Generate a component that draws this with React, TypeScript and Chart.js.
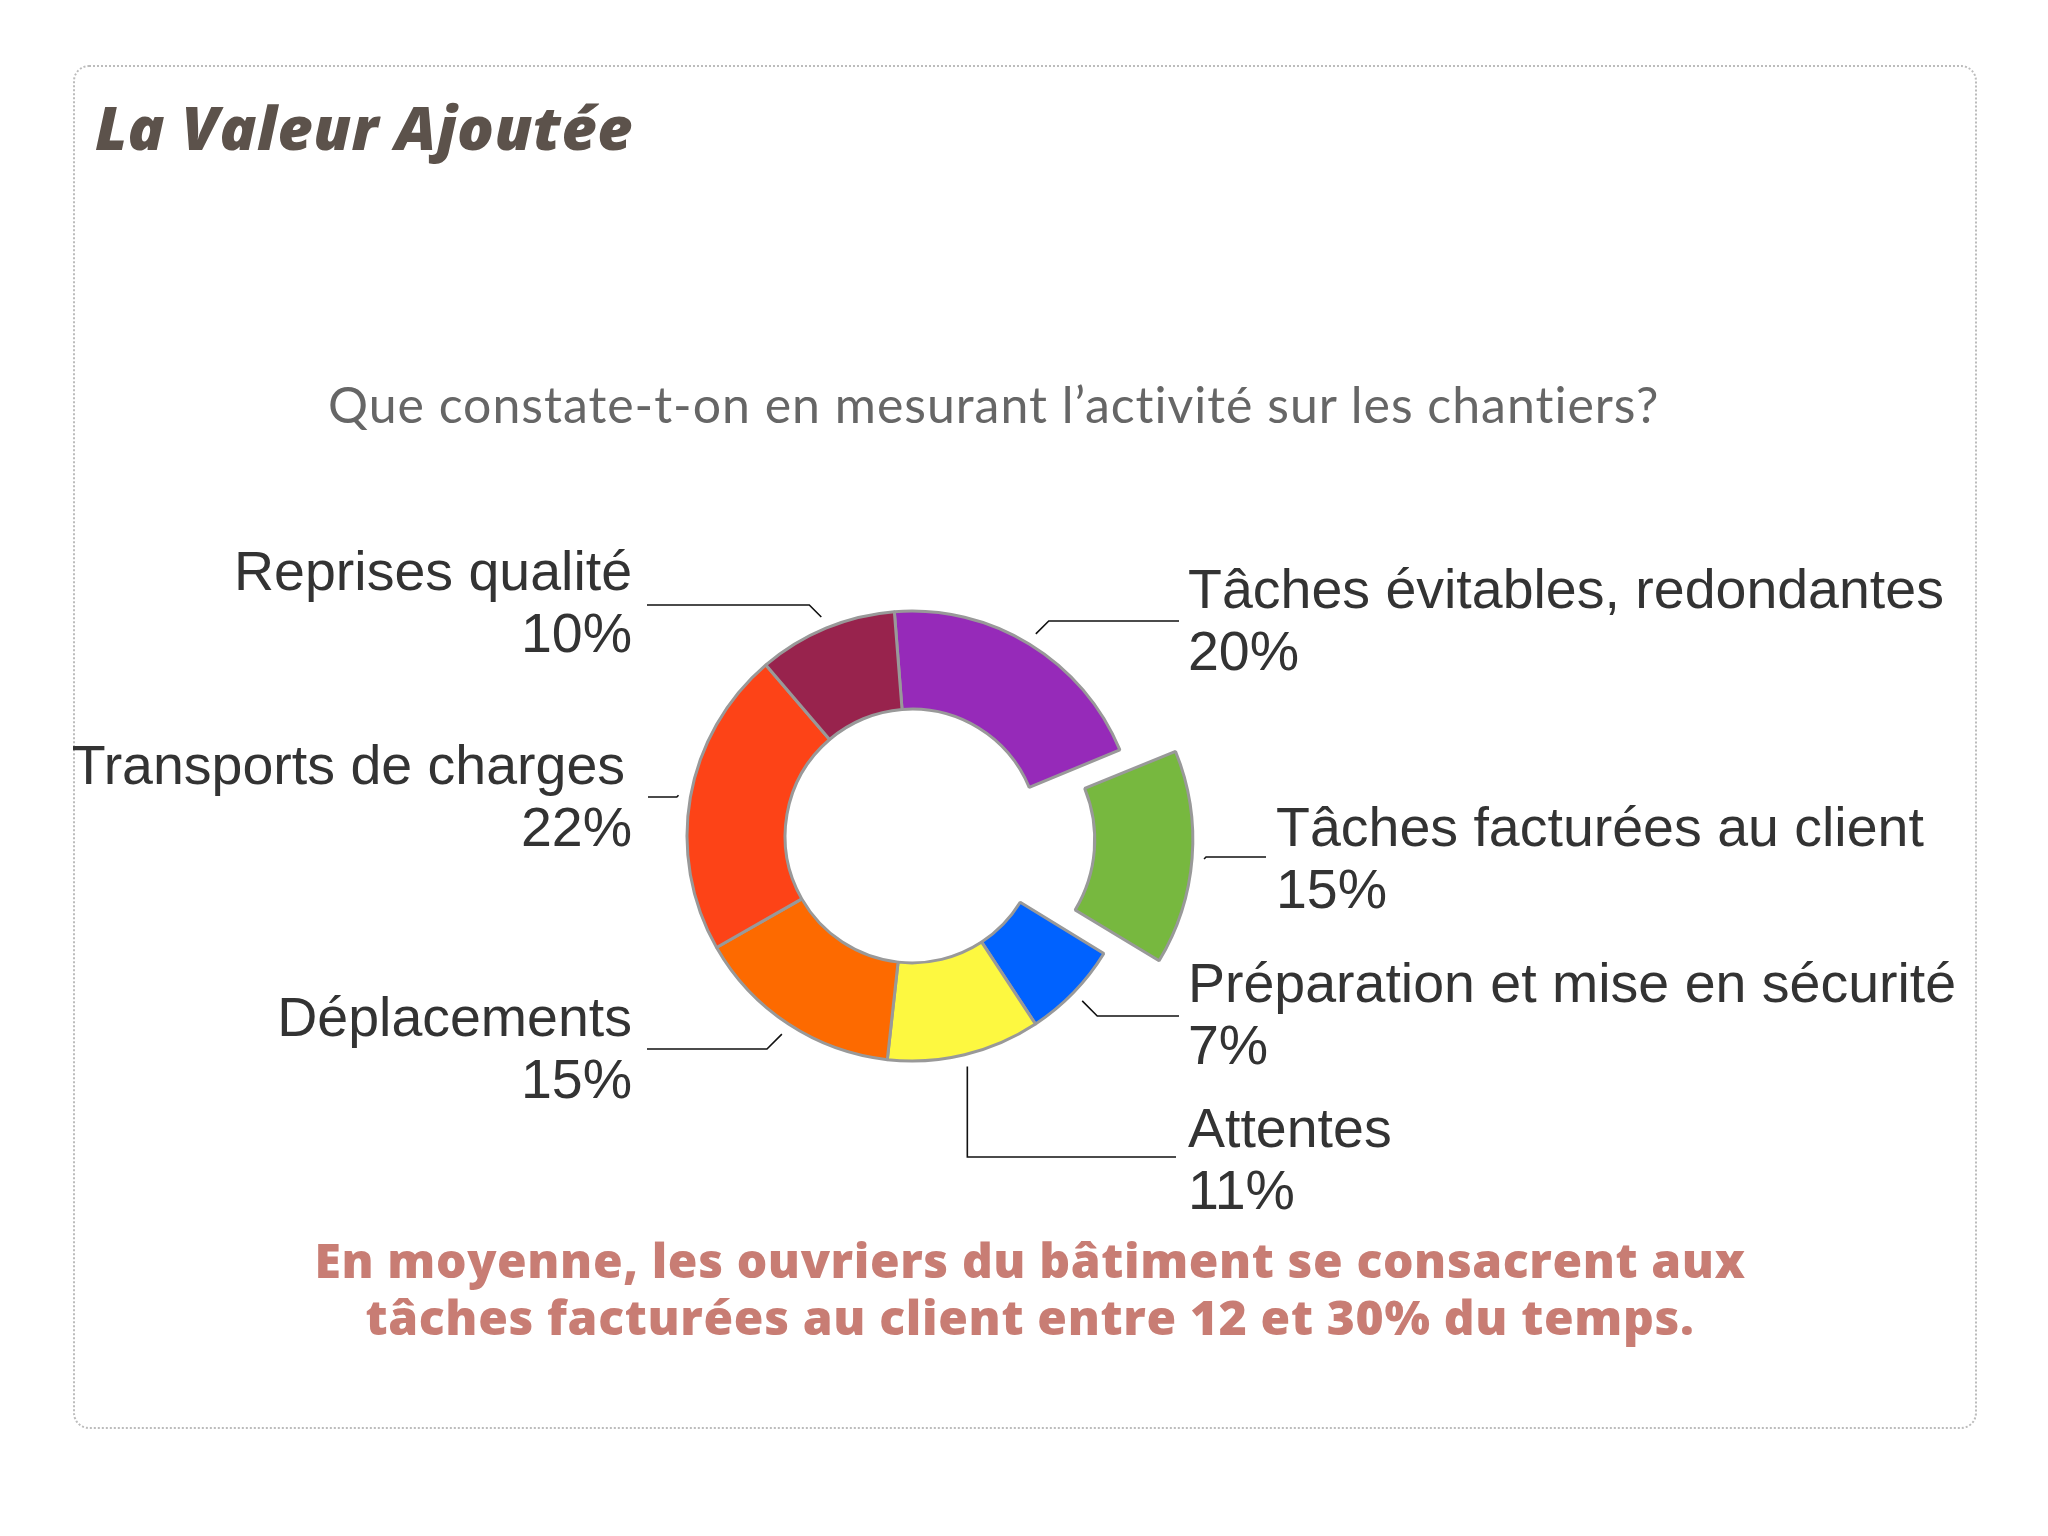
import React, { useEffect, useLayoutEffect, useRef } from 'react';
import { Chart, registerables } from 'chart.js';

Chart.register(...registerables);

// ---- data ----
const categories = [
  'Tâches évitables, redondantes',
  'Tâches facturées au client',
  'Préparation et mise en sécurité',
  'Attentes',
  'Déplacements',
  'Transports de charges',
  'Reprises qualité',
];
const values = [20, 15, 7, 11, 15, 22, 10];
const percentLabels = ['20%', '15%', '7%', '11%', '15%', '22%', '10%'];
const sliceColors = ['#962ab9', '#77b83f', '#0062ff', '#fdf840', '#fd6a00', '#fd4317', '#98234d'];
const sliceOffsets = [0, 188, 0, 0, 0, 0, 0];

const titleText = 'La Valeur Ajoutée';
const subtitleText = 'Que constate-t-on en mesurant l’activité sur les chantiers?';
const footerLines = [
  'En moyenne, les ouvriers du bâtiment se consacrent aux',
  'tâches facturées au client entre 12 et 30% du temps.',
];

// ---- label layout (positions only) ----
type LabelPos = {
  x: number;
  y: number;
  align: 'left' | 'right';
  lineY: number;
  lineEndX: number;
  mode: 'elbow' | 'vertical';
  nameDx?: number;
};
const labelLayout: LabelPos[] = [
  { x: 1188, y: 608, align: 'left', lineY: 621, lineEndX: 1179, mode: 'elbow' },
  { x: 1276, y: 846, align: 'left', lineY: 857, lineEndX: 1266, mode: 'elbow' },
  { x: 1188, y: 1002, align: 'left', lineY: 1016, lineEndX: 1179, mode: 'elbow' },
  { x: 1188, y: 1147, align: 'left', lineY: 1157, lineEndX: 1176, mode: 'vertical' },
  { x: 632, y: 1036, align: 'right', lineY: 1049, lineEndX: 647, mode: 'elbow' },
  { x: 632, y: 784, align: 'right', lineY: 797, lineEndX: 648, mode: 'elbow', nameDx: -7 },
  { x: 632, y: 590, align: 'right', lineY: 605, lineEndX: 647, mode: 'elbow' },
];

const W = 2048;
const H = 1536;
const CX = 912;
const CY = 836;
const HALF = 260;

const labelPlugin = {
  id: 'outsideLabels',
  afterDatasetsDraw(chart: any) {
    const ctx = chart.ctx as CanvasRenderingContext2D;
    const meta = chart.getDatasetMeta(0);
    ctx.save();
    meta.data.forEach((arc: any, i: number) => {
      const lay = labelLayout[i];
      if (!lay) return;
      const { x, y, startAngle, endAngle, outerRadius } = arc.getProps(
        ['x', 'y', 'startAngle', 'endAngle', 'outerRadius'],
        true
      );
      const mid = (startAngle + endAngle) / 2;
      const circ = endAngle - startAngle;
      const off = (arc.options.offset || 0) / 4;
      const fix = 1 - Math.sin(Math.min(Math.PI, circ));
      const d = outerRadius + off + off * fix + 12;
      const sx = x + Math.cos(mid) * d;
      const sy = y + Math.sin(mid) * d;
      ctx.strokeStyle = '#111';
      ctx.lineWidth = 1.6;
      ctx.beginPath();
      ctx.moveTo(sx, sy);
      if (lay.mode === 'vertical') {
        ctx.lineTo(sx, lay.lineY);
      } else {
        const dy = Math.abs(lay.lineY - sy);
        const dir = Math.cos(mid) >= 0 ? 1 : -1;
        ctx.lineTo(sx + dir * dy, lay.lineY);
      }
      ctx.lineTo(lay.lineEndX, lay.lineY);
      ctx.stroke();

      ctx.fillStyle = '#333333';
      ctx.font = '55.5px "Liberation Sans", Arial, sans-serif';
      ctx.textAlign = lay.align;
      ctx.textBaseline = 'alphabetic';
      ctx.fillText(categories[i], lay.x + (lay.nameDx || 0), lay.y);
      ctx.fillText(percentLabels[i], lay.x, lay.y + 62);
    });
    ctx.restore();
  },
};

type FitText = {
  text: string;
  target: number;
  left: number;
  top: number;
  center?: boolean;
  font: string;
  lh: number;
  color: string;
};

const fitTexts: FitText[] = [
  { text: titleText, target: 538, left: 95, top: 97, font: 'italic 800 61px "Open Sans", Lato, sans-serif', lh: 60, color: '#5c524b' },
  { text: subtitleText, target: 1333, left: 328, top: 379, font: '400 50px Lato, sans-serif', lh: 50, color: '#666666' },
  { text: footerLines[0], target: 1431, left: 1030, top: 1236, center: true, font: '800 48px "Open Sans", Lato, sans-serif', lh: 48, color: '#c87d74' },
  { text: footerLines[1], target: 1329, left: 1030, top: 1293, center: true, font: '800 48px "Open Sans", Lato, sans-serif', lh: 48, color: '#c87d74' },
];

export default function App() {
  const canvasRef = useRef<HTMLCanvasElement | null>(null);
  const spanRefs = useRef<(HTMLSpanElement | null)[]>([]);

  useLayoutEffect(() => {
    const fit = () => {
      fitTexts.forEach((t, i) => {
        const el = spanRefs.current[i];
        if (!el) return;
        el.style.letterSpacing = '0px';
        const w = el.getBoundingClientRect().width;
        const ls = (t.target - w) / t.text.length;
        el.style.letterSpacing = ls.toFixed(3) + 'px';
      });
    };
    fit();
    if ((document as any).fonts && (document as any).fonts.ready) {
      (document as any).fonts.ready.then(fit);
    }
  }, []);

  useEffect(() => {
    const canvas = canvasRef.current;
    if (!canvas) return;
    const chart = new Chart(canvas, {
      type: 'doughnut',
      data: {
        labels: categories,
        datasets: [
          {
            data: values,
            backgroundColor: sliceColors,
            borderColor: '#999999',
            borderWidth: 3,
            offset: sliceOffsets,
            hoverOffset: 0,
          } as any,
        ],
      },
      options: {
        responsive: false,
        maintainAspectRatio: false,
        animation: false,
        devicePixelRatio: 1,
        rotation: -4.5,
        radius: 225,
        cutout: '56.4%',
        layout: {
          padding: {
            left: CX - HALF,
            right: W - (CX + HALF),
            top: CY - HALF,
            bottom: H - (CY + HALF),
          },
        },
        plugins: {
          legend: { display: false },
          tooltip: { enabled: false },
          title: { display: false },
        },
        events: [],
      } as any,
      plugins: [labelPlugin],
    });
    return () => chart.destroy();
  }, []);

  return (
    <div style={{ position: 'absolute', left: 0, top: 0, width: W, height: H, background: '#ffffff', overflow: 'hidden' }}>
      <div
        style={{
          position: 'absolute',
          left: 73,
          top: 65,
          width: 1977 - 73,
          height: 1429 - 65,
          border: '2px dotted #bcbcbc',
          borderRadius: 16,
          boxSizing: 'border-box',
        }}
      />
      <canvas
        ref={canvasRef}
        width={W}
        height={H}
        style={{ position: 'absolute', left: 0, top: 0, width: W, height: H }}
      />
      {fitTexts.map((t, i) => (
        <div
          key={i}
          style={{
            position: 'absolute',
            left: t.center ? t.left - 1000 : t.left,
            width: t.center ? 2000 : undefined,
            top: t.top,
            textAlign: t.center ? 'center' : 'left',
            whiteSpace: 'nowrap',
          }}
        >
          <span
            ref={(el) => {
              spanRefs.current[i] = el;
            }}
            style={{ font: t.font, lineHeight: t.lh + 'px', color: t.color, whiteSpace: 'nowrap' }}
          >
            {t.text}
          </span>
        </div>
      ))}
    </div>
  );
}
